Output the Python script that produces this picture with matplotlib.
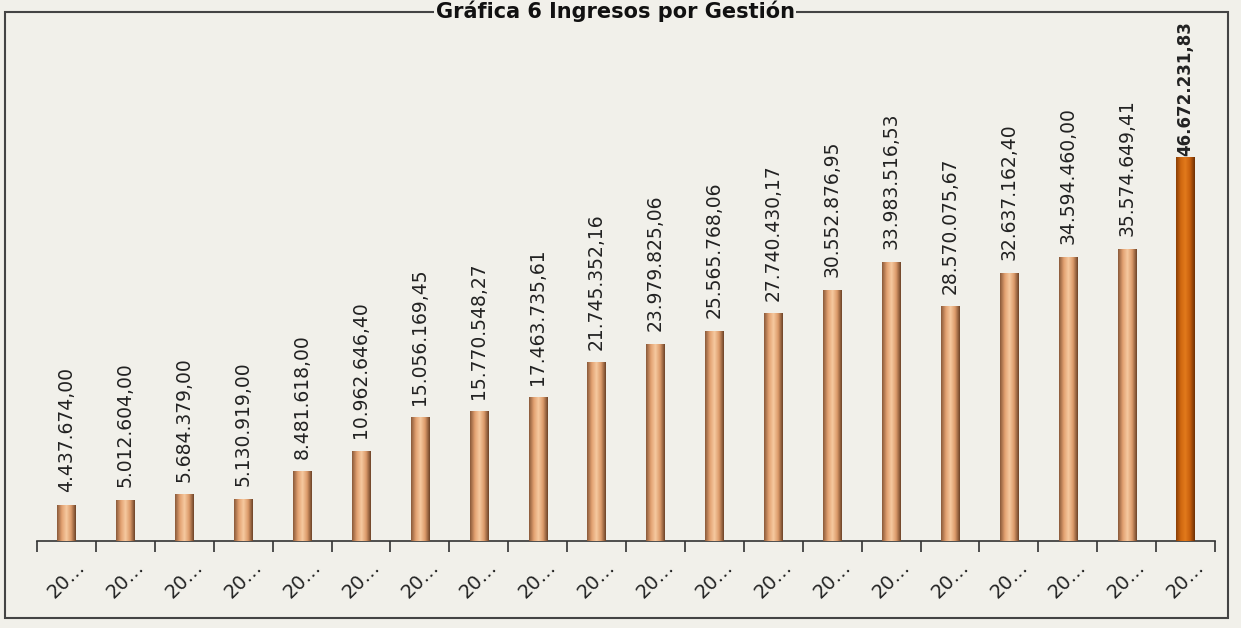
import matplotlib
matplotlib.use("Agg")
import matplotlib.pyplot as plt
import numpy as np
from matplotlib.patches import Rectangle
from matplotlib.colors import LinearSegmentedColormap

categories = ["20…"] * 20
ingresos = [4437674.00, 5012604.00, 5684379.00, 5130919.00, 8481618.00,
            10962646.40, 15056169.45, 15770548.27, 17463735.61, 21745352.16,
            23979825.06, 25565768.06, 27740430.17, 30552876.95, 33983516.53,
            28570075.67, 32637162.40, 34594460.00, 35574649.41, 46672231.83]
title = "Gráfica 6 Ingresos por Gestión"


def fmt_es(v):
    s = f"{v:,.2f}"
    return s.replace(",", "X").replace(".", ",").replace("X", ".")


bg = "#f1f0ea"
fig = plt.figure(figsize=(12.41, 6.28), dpi=100, facecolor=bg)
ax = fig.add_axes([37 / 1241, 1 - 541 / 628, (1215 - 37) / 1241, (541 - 20) / 628])
ax.set_facecolor(bg)

n = len(ingresos)
x = np.arange(n)
width = 0.31
colors = ["#e3a072"] * (n - 1) + ["#cf6410"]
bars = ax.bar(x, ingresos, width=width, color=colors, zorder=2)

# cylinder shading
light = LinearSegmentedColormap.from_list("light", ["#8a5a3a", "#e2a070", "#f6caa0", "#dc9a6a", "#6e4428"])
dark = LinearSegmentedColormap.from_list("dark", ["#8a3e06", "#d06810", "#e27a1c", "#c65e0c", "#6e3004"])
grad = np.linspace(0, 1, 64).reshape(1, -1)
for i, b in enumerate(bars):
    cmap = dark if i == n - 1 else light
    im = ax.imshow(grad, cmap=cmap, aspect="auto", zorder=3,
                   extent=[b.get_x(), b.get_x() + b.get_width(), 0, b.get_height()])
    im.set_clip_path(b)

ax.set_xlim(-0.5, n - 0.5)
ax.set_ylim(0, 63.4e6)

for i, v in enumerate(ingresos):
    last = i == n - 1
    ax.annotate(fmt_es(v), (i, v), xytext=(0, 1 if last else 9), textcoords="offset points",
                rotation=90, ha="center", va="bottom", fontsize=12 if last else 13.5,
                fontweight="bold" if last else "normal", color="#222222", zorder=4)

for s in ["top", "right", "left"]:
    ax.spines[s].set_visible(False)
ax.spines["bottom"].set_color("#333333")
ax.spines["bottom"].set_linewidth(1.2)
ax.set_yticks([])
ax.set_xticks(np.arange(-0.5, n, 1.0))
ax.set_xticklabels([])
ax.tick_params(axis="x", which="major", length=8, width=1.2, color="#333333")
ax.set_xticks(x, minor=True)
ax.set_xticklabels(categories, minor=True, rotation=45, ha="center", va="top",
                   fontsize=14, color="#222222")
ax.tick_params(axis="x", which="minor", length=0, pad=12)

# outer frame
fig.add_artist(Rectangle((5 / 1241, 1 - 618 / 628), 1223 / 1241, 606 / 628,
                         transform=fig.transFigure, fill=False, edgecolor="#444444", linewidth=1.5))
fig.text(615 / 1241, 1 - 1 / 628, title, ha="center", va="top",
         fontsize=15, fontweight="bold", color="#111111",
         bbox=dict(boxstyle="square,pad=0.05", facecolor=bg, edgecolor="none"))

fig.savefig("out.png", dpi=100, facecolor=bg)
